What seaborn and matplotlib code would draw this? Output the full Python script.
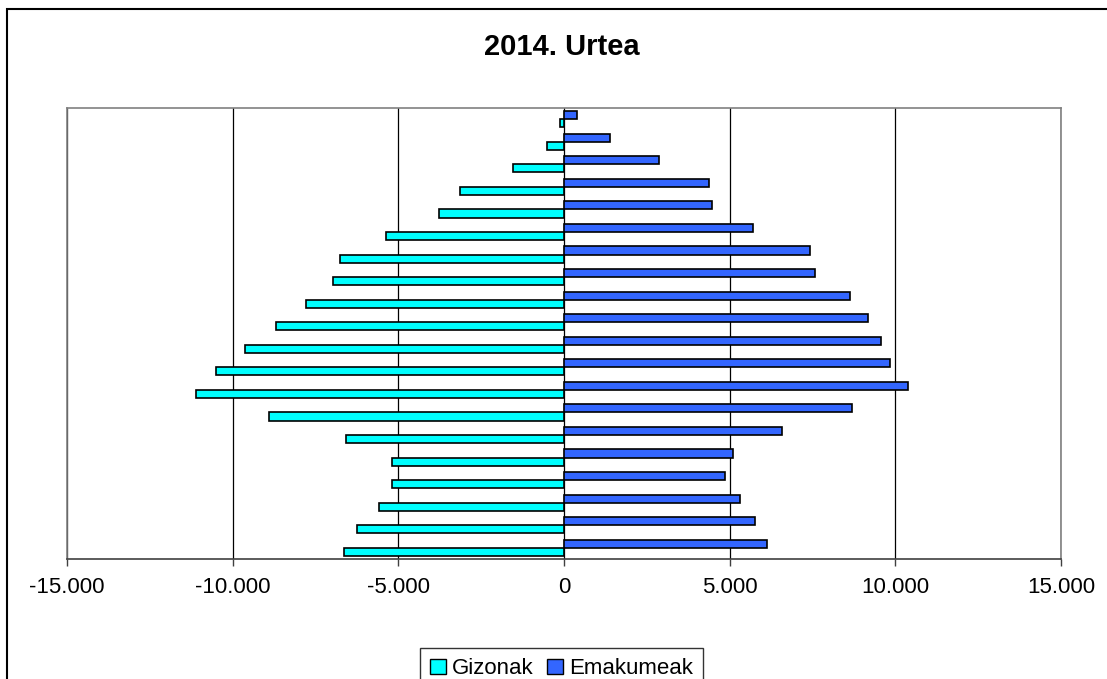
import pandas as pd
import seaborn as sns
import matplotlib.pyplot as plt
from matplotlib.patches import Patch, Rectangle
from matplotlib.ticker import FuncFormatter, MultipleLocator

# adin taldeak, goitik behera (zaharrenak goian)
age_groups = ["95+", "90-94", "85-89", "80-84", "75-79", "70-74", "65-69", "60-64",
              "55-59", "50-54", "45-49", "40-44", "35-39", "30-34", "25-29",
              "20-24", "15-19", "10-14", "5-9", "0-4"]
gizonak = [130, 505, 1540, 3150, 3770, 5370, 6750, 6970, 7800, 8690,
           9620, 10500, 11120, 8910, 6590, 5200, 5190, 5590, 6240, 6640]
emakumeak = [390, 1390, 2870, 4380, 4480, 5700, 7410, 7570, 8630, 9180,
             9570, 9840, 10390, 8680, 6590, 5090, 4870, 5310, 5760, 6140]

colors = {"Gizonak": "#00FFFF", "Emakumeak": "#3366FF"}


def build_frame():
    rows = []
    for age, g, e in zip(age_groups, gizonak, emakumeak):
        rows.append({"adina": age, "sexua": "Emakumeak", "biztanleak": e})
        rows.append({"adina": age, "sexua": "Gizonak", "biztanleak": -g})
    return pd.DataFrame(rows)


def thousands(v, pos):
    return f"{int(round(v)):,}".replace(",", ".")


def main():
    sns.set_style("white")
    plt.rcParams["font.family"] = ["Liberation Sans", "DejaVu Sans"]
    plt.rcParams["text.color"] = "black"
    plt.rcParams["xtick.labelcolor"] = "black"

    df = build_frame()

    fig = plt.figure(figsize=(11.07, 6.79), dpi=100)
    ax = fig.add_axes([67 / 1107, 1 - 559 / 679, (1061 - 67) / 1107, (559 - 108) / 679])

    sns.barplot(data=df, y="adina", x="biztanleak", hue="sexua",
                order=age_groups, hue_order=["Emakumeak", "Gizonak"],
                palette=colors, saturation=1, orient="h", width=0.72, dodge=True,
                edgecolor="black", linewidth=1.2, legend=False, ax=ax)

    ax.set_xlim(-15000, 15000)
    ax.xaxis.set_major_locator(MultipleLocator(5000))
    ax.xaxis.set_major_formatter(FuncFormatter(thousands))
    ax.xaxis.grid(True, color="black", linewidth=0.9)
    ax.set_axisbelow(True)

    ax.set_yticks([])
    ax.set_ylabel("")
    ax.set_xlabel("")
    ax.tick_params(axis="x", bottom=True, direction="out", length=5, width=1,
                   color="#404040", labelcolor="black", labelsize=16, pad=8)

    for side in ["left", "top", "right"]:
        ax.spines[side].set_color("#808080")
        ax.spines[side].set_linewidth(1.2)
    ax.spines["bottom"].set_color("#404040")
    ax.spines["bottom"].set_linewidth(1.2)

    fig.text(0.5074, 1 - 47 / 679, "2014. Urtea", ha="center", va="center",
             fontsize=21, fontweight="bold", color="black")

    handles = [Patch(facecolor=colors["Gizonak"], edgecolor="black", label="Gizonak"),
               Patch(facecolor=colors["Emakumeak"], edgecolor="black", label="Emakumeak")]
    leg = fig.legend(handles=handles, loc="upper center",
                     bbox_to_anchor=(0.5074, 1 - 637 / 679), ncol=2,
                     fontsize=16, frameon=True, fancybox=False,
                     handlelength=0.7, handleheight=0.7, handletextpad=0.3,
                     columnspacing=0.6, borderpad=0.45)
    leg.get_frame().set_edgecolor("black")
    leg.get_frame().set_linewidth(1.0)
    for t in leg.get_texts():
        t.set_color("black")

    # kanpoko markoa
    fig.patches.append(Rectangle((7 / 1107, -0.1), 1.2, 1.1 - 9 / 679,
                                 transform=fig.transFigure, fill=False,
                                 edgecolor="black", linewidth=1.5))

    fig.savefig("out.png", dpi=100)


if __name__ == "__main__":
    main()
